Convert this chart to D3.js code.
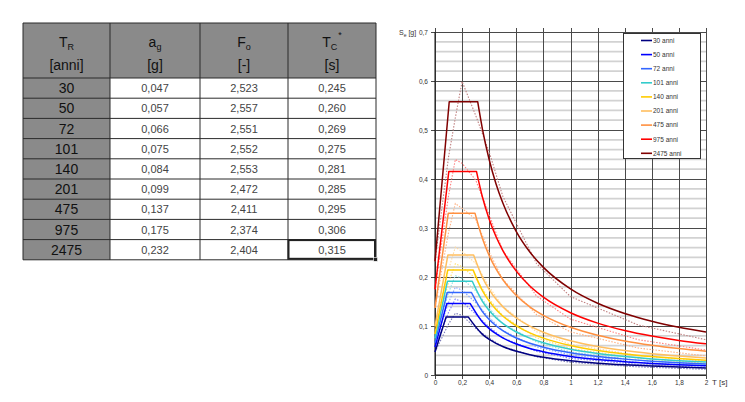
<!DOCTYPE html>
<html>
<head>
<meta charset="utf-8">
<script src="https://cdn.jsdelivr.net/npm/d3@7"></script>
<style>
    body { margin: 0; background: #fff; }
    svg { display: block; font-family: "Liberation Sans", Arial, sans-serif; }
</style>
</head>
<body>
<div id="chart"></div>
<script>
/* table data */
const returnPeriods = [30, 50, 72, 101, 140, 201, 475, 975, 2475]
const agValues = [0.047, 0.057, 0.066, 0.075, 0.084, 0.099, 0.137, 0.175, 0.232]
const foValues = [2.523, 2.557, 2.551, 2.552, 2.553, 2.472, 2.411, 2.374, 2.404]
const tcValues = [0.245, 0.260, 0.269, 0.275, 0.281, 0.285, 0.295, 0.306, 0.315]
const headerMain = ["T", "a", "F", "T"]
const headerSub = ["R", "g", "o", "C"]
const headerSup = ["", "", "", "*"]
const headerUnits = ["[anni]", "[g]", "[-]", "[s]"]

/* solid spectra: start, corner TB, plateau, then decay values */
const tbValues = [0.082, 0.087, 0.090, 0.092, 0.094, 0.095, 0.098, 0.102, 0.105]
const plateauValues = [0.1186, 0.1457, 0.1684, 0.1914, 0.2145, 0.2447, 0.3303, 0.4155, 0.5577]
const decayPeriods = [0.35, 0.4, 0.45, 0.5, 0.6, 0.7, 0.8, 1.0, 1.2, 1.4, 1.6, 1.8, 2.0]
const decay30 = [0.0830, 0.0726, 0.0646, 0.0581, 0.0484, 0.0415, 0.0363, 0.0291, 0.0242, 0.0208, 0.0182, 0.0161, 0.0145]
const decay50 = [0.1083, 0.0947, 0.0842, 0.0758, 0.0632, 0.0541, 0.0474, 0.0379, 0.0316, 0.0271, 0.0237, 0.0211, 0.0189]
const decay72 = [0.1294, 0.1132, 0.1006, 0.0906, 0.0755, 0.0647, 0.0566, 0.0453, 0.0377, 0.0324, 0.0283, 0.0252, 0.0226]
const decay101 = [0.1504, 0.1316, 0.1170, 0.1053, 0.0877, 0.0752, 0.0658, 0.0526, 0.0439, 0.0376, 0.0329, 0.0292, 0.0263]
const decay140 = [0.1722, 0.1507, 0.1339, 0.1205, 0.1004, 0.0861, 0.0753, 0.0603, 0.0502, 0.0430, 0.0377, 0.0335, 0.0301]
const decay201 = [0.1993, 0.1744, 0.1550, 0.1395, 0.1163, 0.0996, 0.0872, 0.0697, 0.0581, 0.0498, 0.0436, 0.0388, 0.0349]
const decay475 = [0.2784, 0.2436, 0.2165, 0.1949, 0.1624, 0.1392, 0.1218, 0.0974, 0.0812, 0.0696, 0.0609, 0.0541, 0.0487]
const decay975 = [0.3632, 0.3178, 0.2825, 0.2543, 0.2119, 0.1816, 0.1589, 0.1271, 0.1059, 0.0908, 0.0795, 0.0706, 0.0636]
const decay2475 = [0.5020, 0.4392, 0.3904, 0.3514, 0.2928, 0.2510, 0.2196, 0.1757, 0.1464, 0.1255, 0.1098, 0.0976, 0.0878]
const decaySeries = [decay30, decay50, decay72, decay101, decay140, decay201, decay475, decay975, decay2475]

/* dotted spectra */
const hazardPeriods = [0, 0.1, 0.15, 0.2, 0.3, 0.4, 0.5, 0.75, 1.0, 1.5, 2.0]
const hazard30 = [0.047, 0.104, 0.126, 0.122, 0.095, 0.075, 0.058, 0.037, 0.026, 0.0165, 0.0116]
const hazard50 = [0.057, 0.128, 0.155, 0.150, 0.124, 0.098, 0.076, 0.048, 0.034, 0.0215, 0.0152]
const hazard72 = [0.066, 0.148, 0.179, 0.173, 0.148, 0.117, 0.091, 0.057, 0.041, 0.0257, 0.0181]
const hazard101 = [0.075, 0.168, 0.203, 0.197, 0.172, 0.136, 0.105, 0.067, 0.047, 0.030, 0.021]
const hazard140 = [0.084, 0.189, 0.227, 0.221, 0.197, 0.155, 0.121, 0.076, 0.054, 0.034, 0.024]
const hazard201 = [0.099, 0.215, 0.261, 0.252, 0.228, 0.180, 0.140, 0.088, 0.063, 0.0395, 0.028]
const hazard475 = [0.137, 0.291, 0.350, 0.340, 0.318, 0.251, 0.195, 0.123, 0.088, 0.055, 0.039]
const hazard975 = [0.175, 0.366, 0.440, 0.432, 0.398, 0.327, 0.254, 0.161, 0.114, 0.072, 0.051]
const hazard2475 = [0.232, 0.445, 0.525, 0.599, 0.530, 0.455, 0.365, 0.227, 0.160, 0.102, 0.072]
const hazardSeries = [hazard30, hazard50, hazard72, hazard101, hazard140, hazard201, hazard475, hazard975, hazard2475]

const lineColors = ["#000080", "#0000ff", "#3366ff", "#33cccc", "#ffcc00", "#ffbf5f", "#ff9040", "#ff0000", "#800000"]
const dotColors = ["#7a7ab8", "#7b7bff", "#8aa8ff", "#8fe0e0", "#ffe070", "#ffd9a0", "#ffb080", "#ff8080", "#c08080"]

const it = d3.formatLocale({ decimal: ",", thousands: ".", grouping: [3], currency: ["", " €"] })
const fmt3 = it.format(".3f")
const tickFmt = it.format("~g")

const svg = d3.select("#chart")
    .append("svg")
    .attr("width", 745)
    .attr("height", 402)

/* ---------- table ---------- */
const colEdges = [23, 110, 200, 288, 376]
const tableTop = 23, headerBottom = 78, rowH = 20.2
const tableBottom = headerBottom + returnPeriods.length * rowH
const table = svg.append("g")

table.append("rect")
    .attr("x", colEdges[0]).attr("y", tableTop)
    .attr("width", colEdges[4] - colEdges[0]).attr("height", headerBottom - tableTop)
    .attr("fill", "#8a8a8a")
table.append("rect")
    .attr("x", colEdges[0]).attr("y", headerBottom)
    .attr("width", colEdges[1] - colEdges[0]).attr("height", tableBottom - headerBottom)
    .attr("fill", "#8a8a8a")

table.selectAll("hline")
    .data([tableTop].concat(d3.range(returnPeriods.length + 1).map(i => headerBottom + i * rowH)))
    .enter()
    .append("line")
    .attr("x1", colEdges[0]).attr("x2", colEdges[4])
    .attr("y1", d => d).attr("y2", d => d)
    .attr("stroke", "#2a2a2a")
table.selectAll("vline")
    .data(colEdges)
    .enter()
    .append("line")
    .attr("x1", d => d).attr("x2", d => d)
    .attr("y1", tableTop).attr("y2", tableBottom)
    .attr("stroke", "#2a2a2a")

const colCenter = i => (colEdges[i] + colEdges[i + 1]) / 2

headerMain.forEach((m, i) => {
    const t = table.append("text")
        .attr("x", colCenter(i)).attr("y", 47)
        .attr("text-anchor", "middle")
        .attr("font-size", 14)
        .attr("fill", "#111")
    t.append("tspan").text(m)
    t.append("tspan").attr("font-size", 9).attr("dy", 3).text(headerSub[i])
    if (headerSup[i]) t.append("tspan").attr("font-size", 9).attr("dy", -12).attr("dx", 1).text(headerSup[i])
    table.append("text")
        .attr("x", colCenter(i)).attr("y", 70)
        .attr("text-anchor", "middle")
        .attr("font-size", 14)
        .attr("fill", "#111")
        .text(headerUnits[i])
})

returnPeriods.forEach((rp, r) => {
    const cy = headerBottom + r * rowH + rowH / 2
    table.append("text")
        .attr("x", colCenter(0)).attr("y", cy + 5)
        .attr("text-anchor", "middle").attr("font-size", 14).attr("fill", "#111")
        .text(rp)
    const cells = [fmt3(agValues[r]), fmt3(foValues[r]), fmt3(tcValues[r])]
    cells.forEach((c, k) => {
        table.append("text")
            .attr("x", colCenter(k + 1)).attr("y", cy + 4)
            .attr("text-anchor", "middle").attr("font-size", 11).attr("fill", "#444")
            .text(c)
    })
})

/* selected cell */
table.append("rect")
    .attr("x", colEdges[3] + 0.5).attr("y", tableBottom - rowH + 0.5)
    .attr("width", colEdges[4] - colEdges[3] - 1.5).attr("height", rowH - 1.5)
    .attr("fill", "none").attr("stroke", "#222").attr("stroke-width", 2)
table.append("rect")
    .attr("x", colEdges[4] - 2.5).attr("y", tableBottom - 2.5)
    .attr("width", 4).attr("height", 4)
    .attr("fill", "#222").attr("stroke", "#fff").attr("stroke-width", 0.6)

/* ---------- chart ---------- */
const x = d3.scaleLinear().domain([0, 2]).range([435, 706])
const y = d3.scaleLinear().domain([0, 0.7]).range([375, 32])
const plot = svg.append("g")

/* minor horizontal grid */
const minorTicks = y.ticks(35).filter(v => Math.round(v * 100) % 10 !== 0)
plot.selectAll("minor")
    .data(minorTicks)
    .enter()
    .append("line")
    .attr("x1", x(0)).attr("x2", x(2))
    .attr("y1", d => y(d)).attr("y2", d => y(d))
    .attr("stroke", "#d2d2d2").attr("stroke-width", 1.7)

/* major horizontal grid */
plot.selectAll("major")
    .data(y.ticks(7))
    .enter()
    .append("line")
    .attr("x1", x(0) - 4).attr("x2", x(2))
    .attr("y1", d => Math.round(y(d)) + 0.5).attr("y2", d => Math.round(y(d)) + 0.5)
    .attr("stroke", "#4a4a4a")

/* vertical grid */
plot.selectAll("vgrid")
    .data(x.ticks(10))
    .enter()
    .append("line")
    .attr("x1", d => Math.round(x(d)) + 0.5).attr("x2", d => Math.round(x(d)) + 0.5)
    .attr("y1", y(0.7) - 4).attr("y2", y(0) + 4)
    .attr("stroke", "#4a4a4a")

/* axes labels */
const yAxis = plot.append("g")
    .attr("transform", `translate(${x(0)}, 0)`)
    .call(d3.axisLeft(y).ticks(7).tickSize(4).tickPadding(3).tickFormat(tickFmt))
const xAxis = plot.append("g")
    .attr("transform", `translate(0, ${y(0)})`)
    .call(d3.axisBottom(x).ticks(10).tickSize(4).tickPadding(1).tickFormat(tickFmt))
;[yAxis, xAxis].forEach(a => {
    a.select(".domain").remove()
    a.selectAll("line").remove()
    a.selectAll("text").attr("font-size", 6.5).attr("fill", "#333")
        .attr("font-family", "Liberation Sans, Arial, sans-serif")
})

plot.append("line")
    .attr("x1", x(0)).attr("x2", x(0)).attr("y1", y(0.7)).attr("y2", y(0))
    .attr("stroke", "#111")
plot.append("line")
    .attr("x1", x(0)).attr("x2", x(2)).attr("y1", y(0)).attr("y2", y(0))
    .attr("stroke", "#111")

const yTitle = plot.append("text")
    .attr("x", 399).attr("y", 35)
    .attr("font-size", 7).attr("fill", "#333")
yTitle.append("tspan").text("S")
yTitle.append("tspan").attr("font-size", 5).attr("dy", 2).text("e")
yTitle.append("tspan").attr("dy", -2).text(" [g]")

plot.append("text")
    .attr("x", 712).attr("y", 385)
    .attr("font-size", 8).attr("fill", "#333")
    .text("T  [s]")

/* curves */
const straight = d3.line().x(d => x(d[0])).y(d => y(d[1]))
const smooth = d3.line().x(d => x(d[0])).y(d => y(d[1])).curve(d3.curveMonotoneX)

returnPeriods.forEach((rp, i) => {
    plot.append("path")
        .attr("d", straight(hazardPeriods.map((t, j) => [t, hazardSeries[i][j]])))
        .attr("fill", "none")
        .attr("stroke", dotColors[i])
        .attr("stroke-width", 1.1)
        .attr("stroke-dasharray", "1.5,1.5")
})

returnPeriods.forEach((rp, i) => {
    const rise = [[0, agValues[i]], [tbValues[i], plateauValues[i]], [tcValues[i], plateauValues[i]]]
    const fall = [[tcValues[i], plateauValues[i]]].concat(decayPeriods.map((t, j) => [t, decaySeries[i][j]]))
    plot.append("path")
        .attr("d", straight(rise) + smooth(fall).replace(/^M/, "L"))
        .attr("fill", "none")
        .attr("stroke", lineColors[i])
        .attr("stroke-width", 1.5)
        .attr("stroke-linejoin", "round")
})

/* legend */
const legend = svg.append("g")
legend.append("rect")
    .attr("x", 623.5).attr("y", 33.5).attr("width", 77).attr("height", 125)
    .attr("fill", "#fff").attr("stroke", "#333")
returnPeriods.forEach((rp, i) => {
    const ly = 40.5 + i * 14.1
    legend.append("line")
        .attr("x1", 641).attr("x2", 652).attr("y1", ly).attr("y2", ly)
        .attr("stroke", lineColors[i]).attr("stroke-width", 1.6)
    legend.append("text")
        .attr("x", 653).attr("y", ly + 2.3)
        .attr("font-size", 6.5).attr("fill", "#333")
        .text(`${rp} anni`)
})
</script>
</body>
</html>
